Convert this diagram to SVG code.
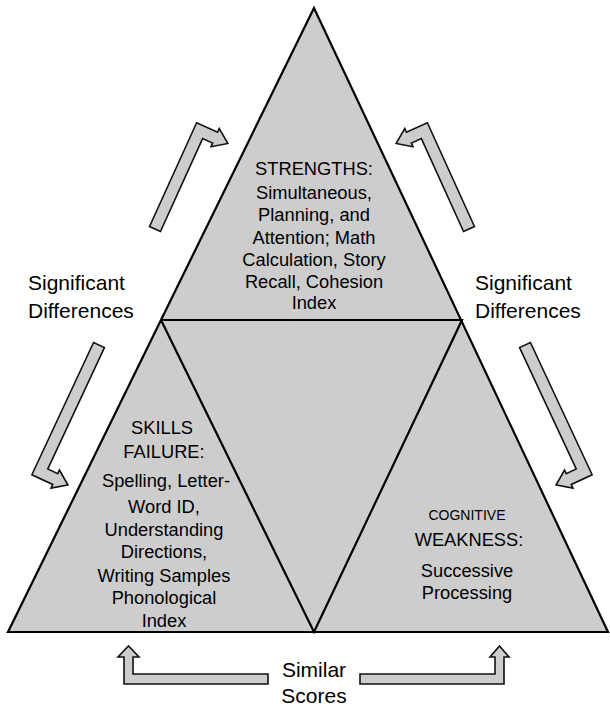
<svg xmlns="http://www.w3.org/2000/svg" width="610" height="707" viewBox="0 0 610 707">
<style>
.tri{fill:#cdcdcd;stroke:#000;stroke-width:2.2;stroke-linejoin:miter}
.ln{fill:none;stroke:#000;stroke-width:2.2}
.arr{fill:#cdcdcd;stroke:#111;stroke-width:1.6;stroke-linejoin:miter}
text{font-family:"Liberation Sans",Arial,sans-serif;fill:#000;text-anchor:middle}
.t18{font-size:18.3px}
.t21{font-size:21px}
.t14{font-size:14px}
</style>
<defs>
<path id="ashort" d="M-6,0 V-114 H17 V-118 L31,-108 L17,-98 V-102 H6 V0 Z"/>
<path id="along" d="M-6,0 V-146 H17 V-150 L31,-140 L17,-130 V-134 H6 V0 Z"/>
</defs>
<g id="triangle">
<polygon class="tri" points="314,8 8,632 608,632"/>
<polyline class="ln" points="161,320 462,320 314,632 161,320"/>
</g>
<g id="strengths">
<text class="t18"><tspan x="314" y="175">STRENGTHS:</tspan><tspan x="314" y="198.5">Simultaneous,</tspan><tspan x="314" y="221">Planning, and</tspan><tspan x="314" y="243.5">Attention; Math</tspan><tspan x="314" y="266">Calculation, Story</tspan><tspan x="314" y="288">Recall, Cohesion</tspan><tspan x="314" y="309">Index</tspan></text>
</g>
<g id="skills-failure">
<text class="t18"><tspan x="162" y="434">SKILLS</tspan><tspan x="164" y="458">FAILURE:</tspan><tspan x="166" y="487">Spelling, Letter-</tspan><tspan x="164" y="512.5">Word ID,</tspan><tspan x="164" y="535.5">Understanding</tspan><tspan x="164" y="558">Directions,</tspan><tspan x="164" y="581.5">Writing Samples</tspan><tspan x="164" y="604">Phonological</tspan><tspan x="164" y="627">Index</tspan></text>
</g>
<g id="cognitive-weakness">
<text class="t14" x="467" y="520">COGNITIVE</text>
<text class="t18"><tspan x="469" y="546">WEAKNESS:</tspan><tspan x="467" y="576.5">Successive</tspan><tspan x="467" y="598.5">Processing</tspan></text>
</g>
<g id="label-left">
<text class="t21" style="text-anchor:start"><tspan x="28" y="290">Significant</tspan><tspan x="28" y="318">Differences</tspan></text>
</g>
<g id="label-right">
<text class="t21" style="text-anchor:start"><tspan x="475" y="290">Significant</tspan><tspan x="475" y="318">Differences</tspan></text>
</g>
<g id="label-bottom">
<text class="t21"><tspan x="314" y="677">Similar</tspan><tspan x="314" y="703">Scores</tspan></text>
</g>
<g id="connectors">
<use href="#ashort" class="arr" transform="translate(155,229) rotate(24.4)"/>
<use href="#ashort" class="arr" transform="translate(469,229) scale(-1,1) rotate(24.4)"/>
<use href="#along" class="arr" transform="translate(99,345) rotate(205) scale(-1,1)"/>
<use href="#along" class="arr" transform="translate(525,345) rotate(-205)"/>
<path class="arr" d="M268,674 H133 V657 H139 L128.5,646 L118,657 H124 V684 H268 Z"/>
<path class="arr" d="M360,674 H495 V657 H490 L499.5,646 L509,657 H504 V684 H360 Z"/>
</g>
</svg>
